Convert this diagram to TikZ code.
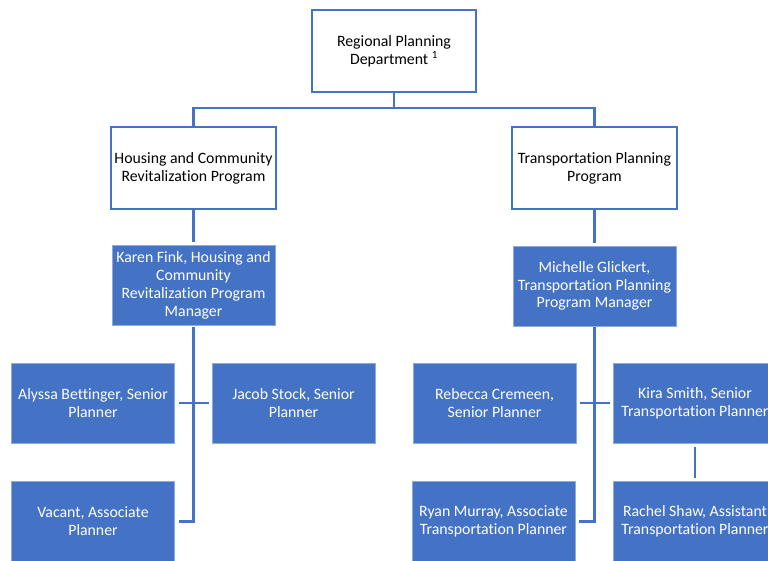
\documentclass[tikz,border=0pt]{standalone}
\usepackage{fontspec}
\setmainfont[Ligatures=CommonOff]{Carlito}
\definecolor{obl}{HTML}{4472C4}
\begin{document}
\begin{tikzpicture}[x=1pt,y=-1pt,
  base/.style={rectangle,inner sep=0pt,align=center,font=\fontsize{15.8}{17.8}\selectfont},
  outbox/.style={base,draw=obl,line width=2.6pt,fill=white,text=black,minimum width=#1,minimum height=82},
  person/.style={base,fill=obl,draw=obl!60!white,line width=0.6pt,text=white,minimum width=163,minimum height=80},
  conn/.style={draw=obl,line width=2.6pt}]
\useasboundingbox (0,0) rectangle (768,560);
\clip (0,0) rectangle (768,560);
\node[outbox=164] (top) at (394,51) {Regional Planning\\Department \textsuperscript{1}};
\node[outbox=165] (housing) at (193.5,168) {Housing and Community\\Revitalization Program};
\node[outbox=165] (transp) at (594.5,168) {Transportation Planning\\Program};
\node[person] (karen) at (193.5,285.5) {Karen Fink, Housing and\\Community\\Revitalization Program\\Manager};
\node[person] (michelle) at (594.5,286) {Michelle Glickert,\\Transportation Planning\\Program Manager};
\node[person] (alyssa) at (93,403) {Alyssa Bettinger, Senior\\Planner};
\node[person] (jacob) at (293.5,403) {Jacob Stock, Senior\\Planner};
\node[person] (vacant) at (93,521) {Vacant, Associate\\Planner};
\node[person] (rebecca) at (494.5,403) {Rebecca Cremeen,\\Senior Planner};
\node[person] (ryan) at (493.5,521) {Ryan Murray, Associate\\Transportation Planner};
\node[person] (kira) at (695,403) {Kira Smith, Senior\\Transportation Planner};
\node[person] (rachel) at (695,521) {Rachel Shaw, Assistant\\Transportation Planner};
\coordinate (bus) at (394,108);
\coordinate (kend) at (193.5,521.5);
\coordinate (mend) at (594.5,521.5);
\draw[conn] (top.south) -- (bus);
\draw[conn] (housing.north) |- (bus) -| (transp.north);
\draw[conn,shorten >=3pt] (housing.south) -- (karen.north);
\draw[conn,shorten >=3pt] (transp.south) -- (michelle.north);
\draw[conn,shorten <=1pt] (karen.south) -- (kend) -- ([xshift=4pt]vacant.east|-kend);
\draw[conn] ([xshift=4pt]alyssa.east) -- ([xshift=-3pt]jacob.west);
\draw[conn,shorten <=1pt] (michelle.south) -- (mend) -- ([xshift=4pt]ryan.east|-mend);
\draw[conn] ([xshift=4pt]rebecca.east) -- ([xshift=-3pt]kira.west);
\draw[conn,shorten <=4pt,shorten >=3pt] (kira.south) -- (rachel.north);
\end{tikzpicture}
\end{document}
